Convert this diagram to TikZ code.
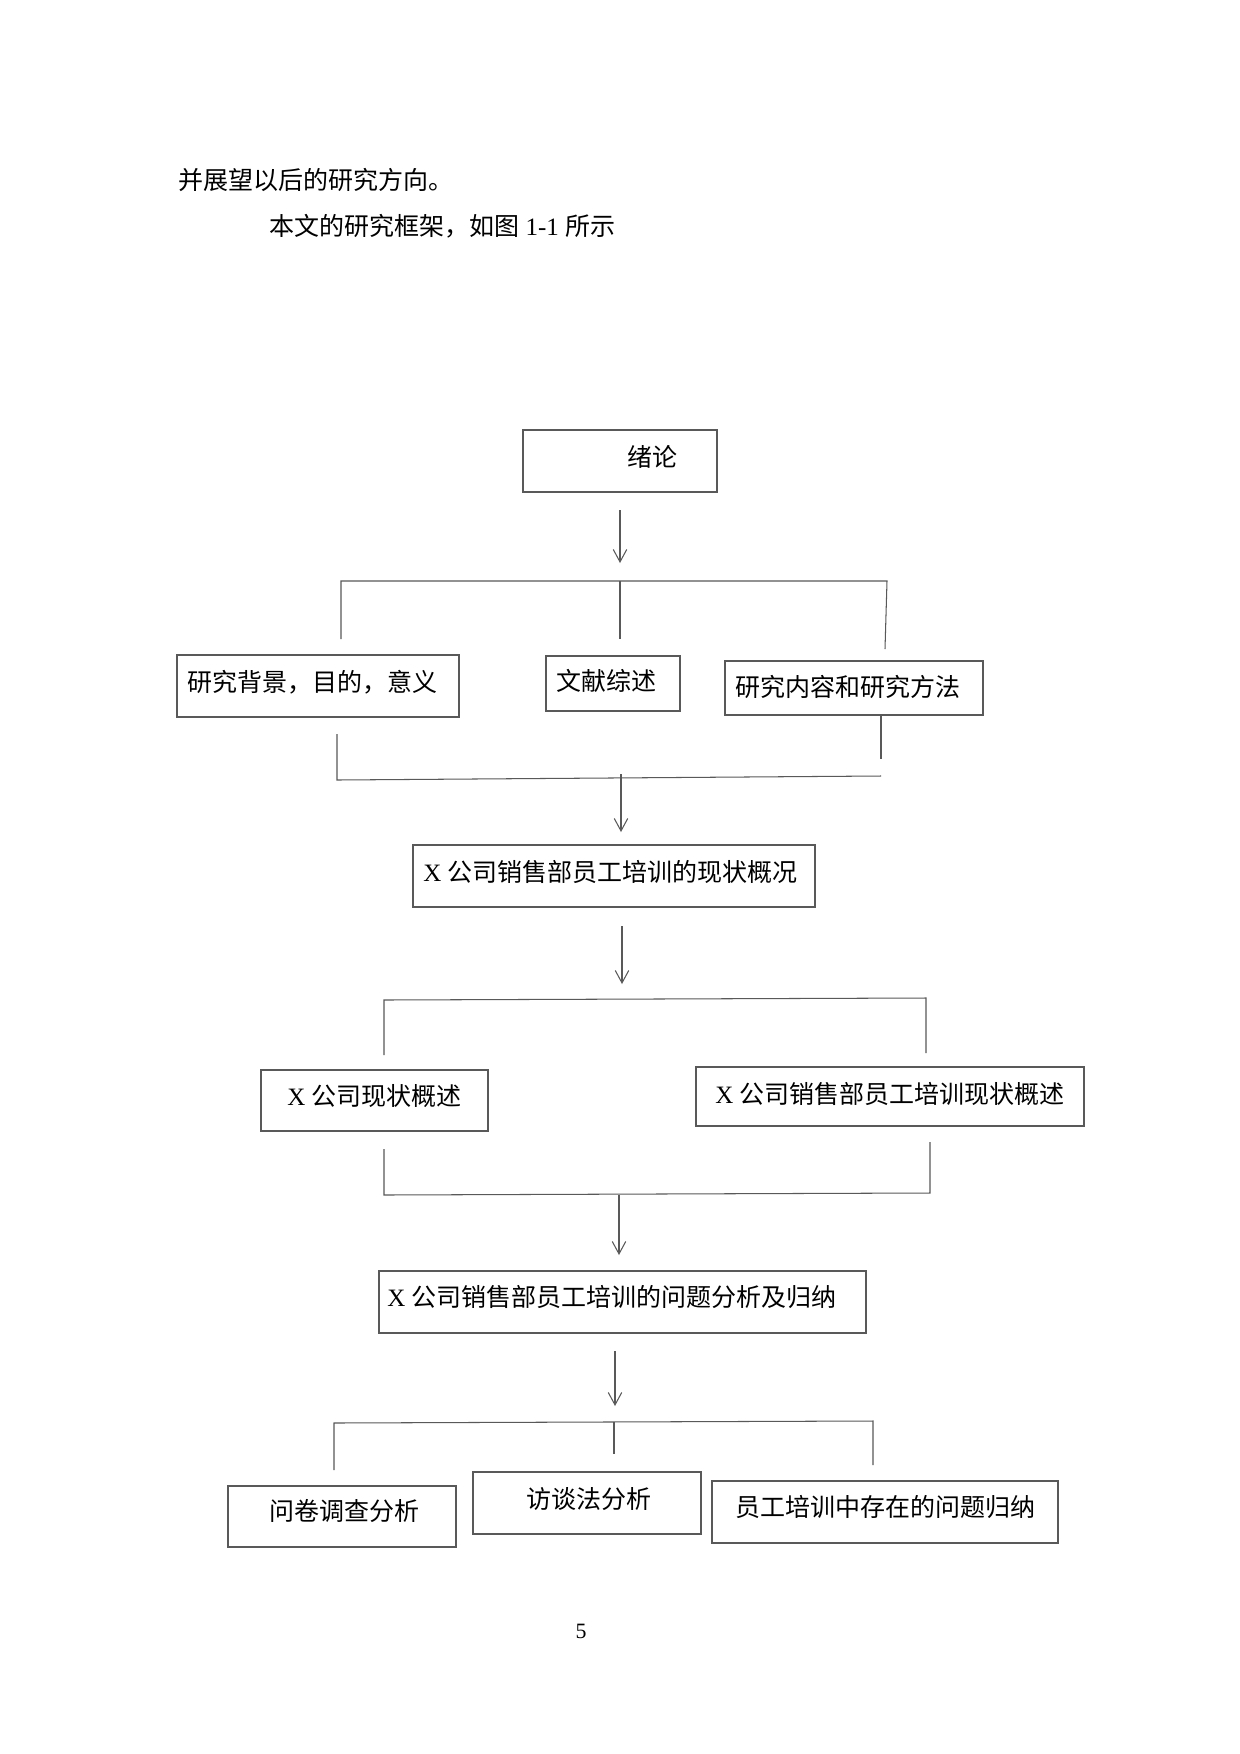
\documentclass[tikz,border=0pt]{standalone}
\usepackage{fontspec}
\setmainfont{Liberation Serif}
\newfontfamily\cjk{Noto Sans CJK SC}
\usetikzlibrary{arrows.meta,fit}
\newcommand{\zh}[1]{{\cjk #1}}
\begin{document}
\begin{tikzpicture}[x=0.48pt,y=-0.48pt,
  box/.style={draw=black!65,line width=0.55pt,inner sep=0pt},
  txt/.style={anchor=west,inner sep=0pt,font=\fontsize{12pt}{14pt}\selectfont,text=black},
  conn/.style={draw=black!65,line width=0.5pt},
  arr/.style={conn,-{Straight Barb[length=6pt,width=6.5pt,line width=0.5pt]}}]
\useasboundingbox[fill=white] (0,0) rectangle (1240,1754);

% page text
\node[txt] (p1) at (178,180) {\zh{并展望以后的研究方向。}};
\node[txt] (p2) at (269,226) {\zh{本文的研究框架，如图} 1-1 \zh{所示}};

% boxes
\coordinate (a1) at (523,430); \coordinate (a2) at (717,492);
\node[box,fit=(a1)(a2)] (A) {};
\node[txt] (tA) at (627,457) {\zh{绪论}};

\coordinate (b11) at (177,655); \coordinate (b12) at (459,717);
\node[box,fit=(b11)(b12)] (B1) {};
\node[txt] (tB1) at (187,682) {\zh{研究背景，目的，意义}};

\coordinate (b21) at (546,656); \coordinate (b22) at (680,711);
\node[box,fit=(b21)(b22)] (B2) {};
\node[txt] (tB2) at (556,681) {\zh{文献综述}};

\coordinate (b31) at (725,661); \coordinate (b32) at (983,715);
\node[box,fit=(b31)(b32)] (B3) {};
\node[txt] (tB3) at (735,687) {\zh{研究内容和研究方法}};

\coordinate (c1) at (413,845); \coordinate (c2) at (815,907);
\node[box,fit=(c1)(c2)] (C) {};
\node[txt] (tC) at (423,872) {X \zh{公司销售部员工培训的现状概况}};

\coordinate (d11) at (261,1070); \coordinate (d12) at (488,1131);
\node[box,fit=(d11)(d12)] (D1) {};
\node[txt] (tD1) at (287,1096) {X \zh{公司现状概述}};

\coordinate (d21) at (696,1067); \coordinate (d22) at (1084,1126);
\node[box,fit=(d21)(d22)] (D2) {};
\node[txt] (tD2) at (715,1094) {X \zh{公司销售部员工培训现状概述}};

\coordinate (e1) at (379,1271); \coordinate (e2) at (866,1333);
\node[box,fit=(e1)(e2)] (E) {};
\node[txt] (tE) at (387,1297) {X \zh{公司销售部员工培训的问题分析及归纳}};

\coordinate (f11) at (228,1486); \coordinate (f12) at (456,1547);
\node[box,fit=(f11)(f12)] (F1) {};
\node[txt] (tF1) at (269,1511) {\zh{问卷调查分析}};

\coordinate (f21) at (473,1472); \coordinate (f22) at (701,1534);
\node[box,fit=(f21)(f22)] (F2) {};
\node[txt] (tF2) at (526,1499) {\zh{访谈法分析}};

\coordinate (f31) at (712,1481); \coordinate (f32) at (1058,1543);
\node[box,fit=(f31)(f32)] (F3) {};
\node[txt] (tF3) at (735,1507) {\zh{员工培训中存在的问题归纳}};

\node[anchor=center,inner sep=0pt,font=\fontsize{10.5pt}{12pt}\selectfont] (pg) at (581,1631) {5};

% arrow 1 and bracket 1
\coordinate (r1s) at (620,510); \coordinate (r1e) at (620,563);
\draw[arr] (r1s) -- (r1e);
\coordinate (h1l) at (341,581); \coordinate (h1m) at (620,581); \coordinate (h1r) at (887,581);
\coordinate (v1l) at (341,639); \coordinate (v1m) at (620,639); \coordinate (v1r) at (885,649);
\draw[conn] (v1l) -- (h1l) -- (h1r) -- (v1r);
\draw[conn] (h1m) -- (v1m);

% bracket 2 and arrow 2
\coordinate (u2lt) at (337,734); \coordinate (u2lb) at (337,780);
\coordinate (u2rt) at (881,715); \coordinate (u2rb) at (881,759);
\coordinate (u2hr) at (881,776);
\draw[conn] (u2lt) -- (u2lb) -- (u2hr);
\draw[conn] (u2rt) -- (u2rb);
\coordinate (r2s) at (621,774); \coordinate (r2e) at (621,832);
\draw[arr] (r2s) -- (r2e);

% arrow 3 and bracket 3
\coordinate (r3s) at (622,926); \coordinate (r3e) at (622,984);
\draw[arr] (r3s) -- (r3e);
\coordinate (h3l) at (384,1000); \coordinate (h3r) at (926,998);
\coordinate (v3l) at (384,1055); \coordinate (v3r) at (926,1053);
\draw[conn] (v3l) -- (h3l) -- (h3r) -- (v3r);

% bracket 4 and arrow 4
\coordinate (u4lt) at (384,1149); \coordinate (u4lb) at (384,1195);
\coordinate (u4rt) at (930,1142); \coordinate (u4rb) at (930,1193);
\draw[conn] (u4lt) -- (u4lb) -- (u4rb) -- (u4rt);
\coordinate (r4s) at (619,1195); \coordinate (r4e) at (619,1255);
\draw[arr] (r4s) -- (r4e);

% arrow 5 and bracket 5
\coordinate (r5s) at (615,1351); \coordinate (r5e) at (615,1406);
\draw[arr] (r5s) -- (r5e);
\coordinate (h5l) at (334,1423); \coordinate (h5m) at (614,1422); \coordinate (h5r) at (873,1421);
\coordinate (v5l) at (334,1470); \coordinate (v5m) at (614,1454); \coordinate (v5r) at (873,1465);
\draw[conn] (v5l) -- (h5l) -- (h5r) -- (v5r);
\draw[conn] (h5m) -- (v5m);
\end{tikzpicture}
\end{document}
